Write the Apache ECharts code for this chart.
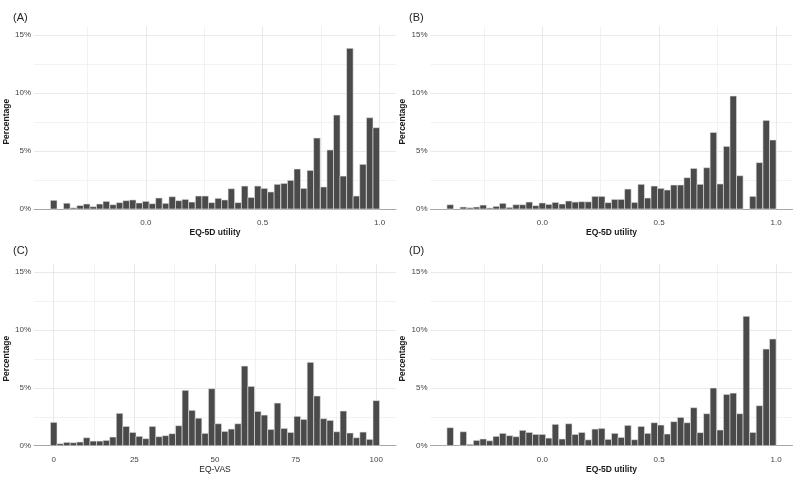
<!DOCTYPE html>
<html>
<head>
<meta charset="utf-8">
<script src="https://cdn.jsdelivr.net/npm/echarts@6/dist/echarts.min.js"></script>
<style>
  html, body { margin: 0; padding: 0; background: #ffffff; }
  #chart { width: 800px; height: 480px; }
</style>
</head>
<body>
<div id="chart"></div>
<script>
// ---- Data: bin centres (x) and percentages (y) for each panel ----
const utilityBinWidth = 0.02816;
const utilityBinCenters = [
  -0.394, -0.366, -0.338, -0.309, -0.281, -0.253, -0.225, -0.197, -0.169, -0.140,
  -0.112, -0.084, -0.056, -0.028, 0.000, 0.028, 0.056, 0.085, 0.113, 0.141,
  0.169, 0.197, 0.226, 0.254, 0.282, 0.310, 0.338, 0.366, 0.395, 0.423,
  0.451, 0.479, 0.507, 0.535, 0.563, 0.592, 0.620, 0.648, 0.676, 0.704,
  0.732, 0.761, 0.789, 0.817, 0.845, 0.873, 0.901, 0.929, 0.958, 0.986
];
const vasBinWidth = 2.0408;
const vasBinCenters = [
  0, 2.04, 4.08, 6.12, 8.16, 10.2, 12.24, 14.29, 16.33, 18.37,
  20.41, 22.45, 24.49, 26.53, 28.57, 30.61, 32.65, 34.69, 36.73, 38.78,
  40.82, 42.86, 44.9, 46.94, 48.98, 51.02, 53.06, 55.1, 57.14, 59.18,
  61.22, 63.27, 65.31, 67.35, 69.39, 71.43, 73.47, 75.51, 77.55, 79.59,
  81.63, 83.67, 85.71, 87.76, 89.8, 91.84, 93.88, 95.92, 97.96, 100
];

const pctA = [
  0.75, 0, 0.5, 0.1, 0.3, 0.43, 0.2, 0.43, 0.66, 0.37,
  0.55, 0.72, 0.78, 0.52, 0.66, 0.46, 0.95, 0.49, 1.06, 0.72,
  0.83, 0.6, 1.12, 1.12, 0.55, 0.92, 0.78, 1.75, 0.55, 1.98,
  1.0, 1.98, 1.78, 1.47, 2.13, 2.21, 2.47, 3.45, 1.78, 3.33,
  6.12, 1.9, 5.09, 8.1, 2.84, 13.85, 1.12, 3.85, 7.87, 7.01
];
const pctB = [
  0.37, 0, 0.17, 0.11, 0.17, 0.34, 0.09, 0.23, 0.49, 0.14,
  0.37, 0.37, 0.6, 0.29, 0.52, 0.4, 0.57, 0.43, 0.69, 0.6,
  0.63, 0.62, 1.09, 1.09, 0.55, 0.83, 0.83, 1.72, 0.57, 2.13,
  0.95, 1.98, 1.78, 1.64, 2.07, 2.07, 2.7, 3.5, 2.13, 3.56,
  6.6, 2.16, 5.4, 9.74, 2.87, 0, 1.09, 4.0, 7.64, 5.95
];
const pctC = [
  2.02, 0.17, 0.29, 0.26, 0.32, 0.69, 0.40, 0.40, 0.46, 0.75,
  2.8, 1.67, 1.15, 0.81, 0.61, 1.67, 0.78, 0.87, 1.04, 1.73,
  4.79, 3.06, 2.38, 1.07, 4.93, 1.9, 1.24, 1.44, 1.9, 6.89,
  5.13, 2.97, 2.65, 1.41, 3.69, 1.5, 1.15, 2.54, 2.28, 7.21,
  4.3, 2.34, 2.19, 1.21, 3.0, 1.1, 0.69, 1.18, 0.55, 3.9
];
const pctD = [
  1.56, 0, 1.21, 0.12, 0.46, 0.58, 0.43, 0.81, 1.07, 0.87,
  0.78, 1.33, 1.15, 0.98, 0.98, 0.66, 1.85, 0.58, 1.9, 0.98,
  1.15, 0.51, 1.44, 1.5, 0.55, 1.07, 0.72, 1.76, 0.52, 1.67,
  1.07, 1.99, 1.79, 1.01, 2.08, 2.45, 1.99, 3.29, 1.13, 2.77,
  4.99, 1.36, 4.44, 4.55, 2.77, 11.19, 1.15, 3.46, 8.36, 9.23
];

const panelLabels = ['(A)', '(B)', '(C)', '(D)'];
const xTitles = ['EQ-5D utility', 'EQ-5D utility', 'EQ-VAS', 'EQ-5D utility'];
const yTitle = 'Percentage';
const utilityTicks = [-0.25, 0, 0.25, 0.5, 0.75, 1.0];
const utilityLabels = [0, 0.5, 1.0];
const vasTicks = [0, 12.5, 25, 37.5, 50, 62.5, 75, 87.5, 100];
const vasLabels = [0, 25, 50, 75, 100];
const pctTicks = [0, 2.5, 5, 7.5, 10, 12.5, 15];
const pctLabels = [0, 5, 10, 15];

// ---- Build chart ----
const FONT = '"Liberation Sans", Arial, sans-serif';
const BAR_FILL = '#4a4a4a';
const MAJOR = '#e3e3e3';
const MINOR = '#efefef';

function binData(centers, width, pct) {
  return centers.map((c, i) => [c - width / 2, c + width / 2, pct[i]]);
}

function renderBars(params, api) {
  const v = api.value(2);
  if (!v) return null;
  const p0 = api.coord([api.value(0), v]);
  const p1 = api.coord([api.value(1), 0]);
  return {
    type: 'rect',
    shape: { x: p0[0], y: p0[1], width: p1[0] - p0[0], height: p1[1] - p0[1] },
    style: { fill: BAR_FILL, stroke: '#e8e8e8', lineWidth: 0.6 }
  };
}

const grids = [
  { left: 34, top: 26.3, width: 362, height: 182.7 },
  { left: 430.5, top: 26.3, width: 362, height: 182.7 },
  { left: 34, top: 263.6, width: 362, height: 182.1 },
  { left: 430.5, top: 263.6, width: 362, height: 182.1 }
];

const panels = [
  { data: binData(utilityBinCenters, utilityBinWidth, pctA), vas: false },
  { data: binData(utilityBinCenters, utilityBinWidth, pctB), vas: false },
  { data: binData(vasBinCenters, vasBinWidth, pctC), vas: true },
  { data: binData(utilityBinCenters, utilityBinWidth, pctD), vas: false }
];

const xAxes = panels.map((p, i) => ({
  type: 'value',
  gridIndex: i,
  min: p.vas ? -6.12 : -0.4784,
  max: p.vas ? 106.12 : 1.0704,
  name: xTitles[i],
  nameLocation: 'middle',
  nameGap: 19,
  nameTextStyle: {
    fontFamily: FONT, fontSize: 8.5, color: '#1a1a1a',
    fontWeight: p.vas ? 'normal' : 'bold'
  },
  axisLine: { show: true, lineStyle: { color: '#a8a8a8', width: 1 } },
  axisTick: { show: false, customValues: p.vas ? vasTicks : utilityTicks },
  axisLabel: {
    customValues: p.vas ? vasLabels : utilityLabels,
    formatter: v => p.vas ? String(Math.round(v)) : v.toFixed(1),
    fontFamily: FONT, fontSize: 8, color: '#444444', margin: 10
  },
  splitLine: {
    show: true,
    lineStyle: { color: p.vas ? [MAJOR, MINOR] : [MINOR, MAJOR], width: 0.8 }
  }
}));

const yAxes = panels.map((p, i) => ({
  type: 'value',
  gridIndex: i,
  min: 0,
  max: 15.75,
  name: yTitle,
  nameLocation: 'middle',
  nameGap: 18,
  nameTextStyle: {
    fontFamily: FONT, fontSize: 8.5, color: '#1a1a1a', fontWeight: 'bold',
    padding: [0, 8, 0, 0]
  },
  axisLine: { show: false },
  axisTick: { show: false, customValues: pctTicks },
  axisLabel: {
    customValues: pctLabels,
    formatter: v => v + '%',
    fontFamily: FONT, fontSize: 8, color: '#444444', margin: 3
  },
  splitLine: { show: true, lineStyle: { color: [MAJOR, MINOR], width: 0.8 } }
}));

const titles = panelLabels.map((t, i) => ({
  text: t,
  left: i % 2 === 0 ? 13 : 409,
  top: i < 2 ? 12 : 245.5,
  padding: 0,
  textStyle: { fontFamily: FONT, fontSize: 11, fontWeight: 'normal', color: '#222222' }
}));

const series = panels.map((p, i) => ({
  type: 'custom',
  xAxisIndex: i,
  yAxisIndex: i,
  renderItem: renderBars,
  encode: { x: [0, 1], y: 2 },
  data: p.data,
  silent: true,
  animation: false
}));

const chart = echarts.init(document.getElementById('chart'), null, { renderer: 'canvas' });
chart.setOption({
  animation: false,
  backgroundColor: '#ffffff',
  title: titles,
  grid: grids,
  xAxis: xAxes,
  yAxis: yAxes,
  series: series
});
</script>
</body>
</html>
